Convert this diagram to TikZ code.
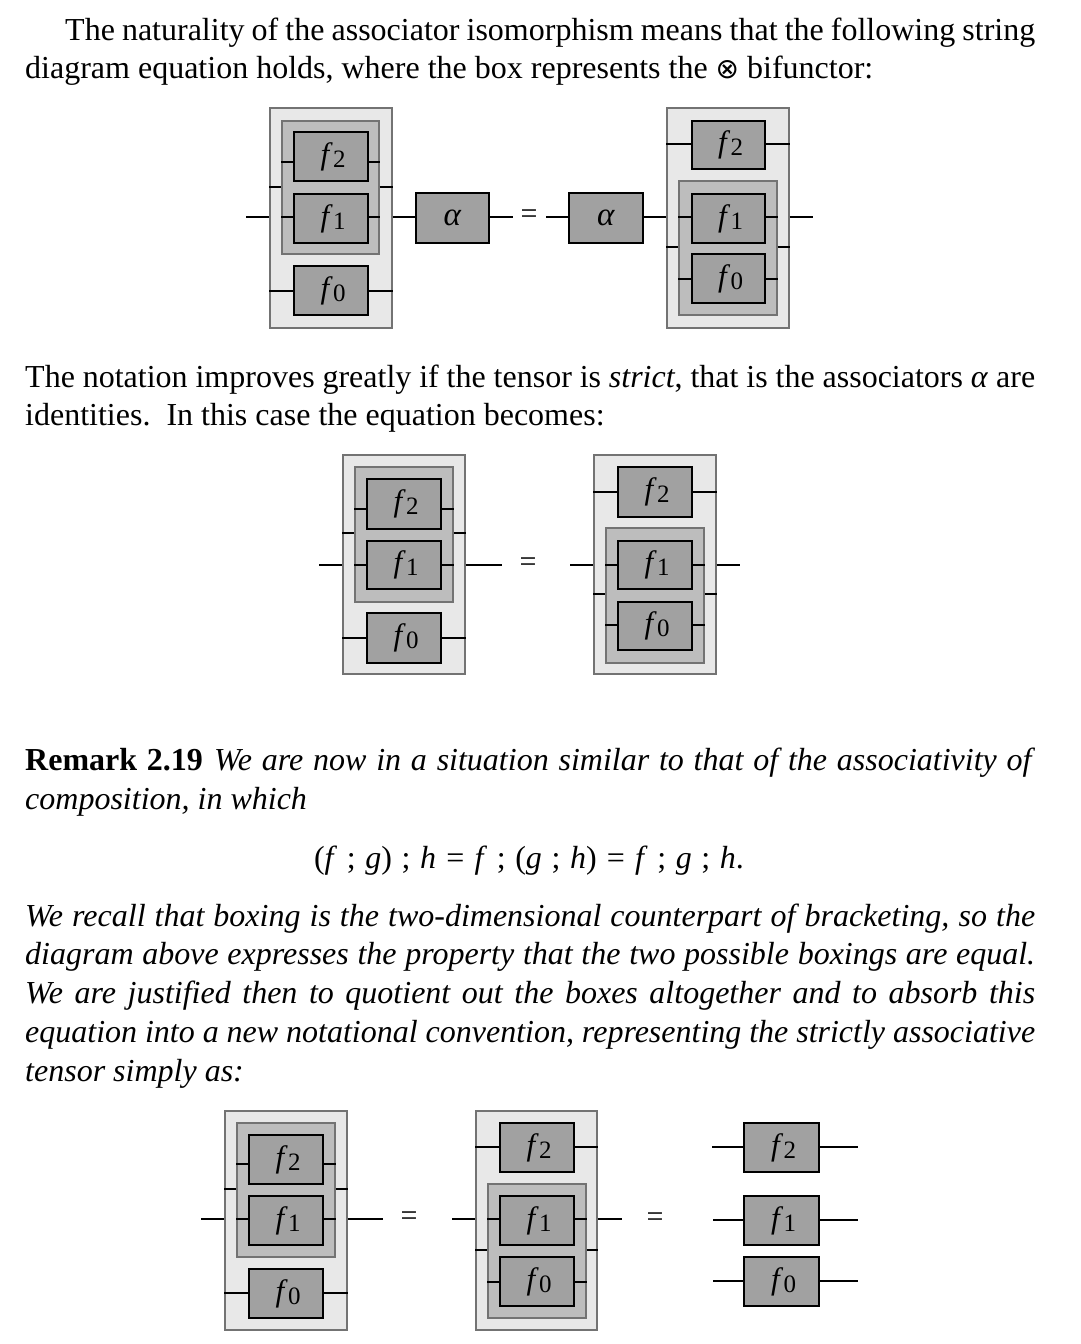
\documentclass[tikz,border=0pt]{standalone}
\usepackage{fontspec}
\setmainfont{Liberation Serif}
\newfontfamily\symf{DejaVu Sans}
\newcommand\mkbox[7]{\node[#2, minimum width={#5-#3}, minimum height={#6-#4}] (#1) at ({(#3+#5)/2},{(#4+#6)/2}) {#7};}
\newcommand\flab[1]{\hspace{4pt}\textit{f}\kern0.01em\raisebox{-0.1em}{\fontsize{25}{25}\selectfont #1}}
\newcommand\wirey[3]{\draw[wire] (#1 |- 0,#3) -- (#2 |- 0,#3);}
\newcommand\sm{\hspace{0.3em};\hspace{0.3em}}
\newcommand\eqq{\hspace{0.32em}=\hspace{0.32em}}
\begin{document}
\begin{tikzpicture}[x=1pt,y=-1pt,font=\fontsize{32}{39}\selectfont,
 outerbox/.style={draw=black!55, fill=black!9, line width=1.4pt, inner sep=0pt},
 innerbox/.style={draw=black!55, fill=black!26, line width=1.4pt, inner sep=0pt},
 fnbox/.style={draw=black, fill=black!37, line width=2.8pt, inner sep=0pt, font=\fontsize{31}{31}\selectfont},
 wire/.style={line width=2.4pt},
 txt/.style={anchor=base west, inner sep=0pt},
 eqsign/.style={inner sep=0pt, font=\fontsize{30}{30}\selectfont}]
\useasboundingbox[fill=white] (0,0) rectangle (1080,1344);

% ---------------- text ----------------
\node[txt] (p1a) at (65,40) {\makebox[970pt][s]{The naturality of the associator isomorphism means that the following string}};
\node[txt] (p1b) at (25,78) {diagram equation holds, where the box represents the {\symf\fontsize{28}{28}\selectfont ⊗} bifunctor:};
\node[txt] (p2a) at (25,387) {\makebox[1010pt][s]{The notation improves greatly if the tensor is \textit{strict}, that is the associators \textit{α} are}};
\node[txt] (p2b) at (25,425) {identities.\ \ In this case the equation becomes:};
\node[txt] (r1) at (25,770) {\makebox[1010pt][s]{\textbf{Remark 2.19}\hspace{0.35em}\textit{We are now in a situation similar to that of the associativity of}}};
\node[txt] (r2) at (25,809) {\textit{composition, in which}};
\node[anchor=base, inner sep=0pt] (eq) at (529,868) {(\textit{f}\sm\textit{g})\sm\textit{h}\eqq\textit{f}\sm(\textit{g}\sm\textit{h})\eqq\textit{f}\sm\textit{g}\sm\textit{h}.};
\node[txt] (r3) at (25,926) {\makebox[1010pt][s]{\textit{We recall that boxing is the two-dimensional counterpart of bracketing, so the}}};
\node[txt] (r4) at (25,964) {\makebox[1010pt][s]{\textit{diagram above expresses the property that the two possible boxings are equal.}}};
\node[txt] (r5) at (25,1003) {\makebox[1010pt][s]{\textit{We are justified then to quotient out the boxes altogether and to absorb this}}};
\node[txt] (r6) at (25,1042) {\makebox[1010pt][s]{\textit{equation into a new notational convention, representing the strictly associative}}};
\node[txt] (r7) at (25,1081) {\textit{tensor simply as:}};

% ---------------- diagram 1 ----------------
\mkbox{O1}{outerbox}{270}{108}{392}{328}{}
\mkbox{I1}{innerbox}{282}{121}{379}{254}{}
\mkbox{A2}{fnbox}{294}{132}{368}{181}{\flab{2}}
\mkbox{A1}{fnbox}{294}{194}{368}{243}{\flab{1}}
\mkbox{A0}{fnbox}{294}{266}{368}{315}{\flab{0}}
\mkbox{al1}{fnbox}{416}{193}{489}{243}{\fontsize{33}{33}\selectfont\textit{α}}
\coordinate (a1in) at (246,217);
\coordinate (a1out) at (513,217);
\wirey{a1in}{O1.west}{217}
\wirey{O1.west}{I1.west}{187}
\wirey{I1.west}{A2.west}{162}
\wirey{I1.west}{A1.west}{217}
\wirey{A2.east}{I1.east}{162}
\wirey{A1.east}{I1.east}{217}
\wirey{I1.east}{O1.east}{187}
\wirey{O1.west}{A0.west}{291}
\wirey{A0.east}{O1.east}{291}
\wirey{O1.east}{al1.west}{217}
\wirey{al1.east}{a1out}{217}
\node[eqsign] (eq1) at (529,217) {=};

\mkbox{al2}{fnbox}{569}{193}{643}{243}{\fontsize{33}{33}\selectfont\textit{α}}
\mkbox{O2}{outerbox}{667}{108}{789}{328}{}
\mkbox{B2}{fnbox}{692}{121}{765}{169}{\flab{2}}
\mkbox{I2}{innerbox}{679}{181}{777}{315}{}
\mkbox{B1}{fnbox}{692}{194}{765}{243}{\flab{1}}
\mkbox{B0}{fnbox}{692}{254}{765}{303}{\flab{0}}
\coordinate (b1in) at (546,217);
\coordinate (b1out) at (813,217);
\wirey{b1in}{al2.west}{217}
\wirey{al2.east}{O2.west}{217}
\wirey{O2.west}{B2.west}{144}
\wirey{B2.east}{O2.east}{144}
\wirey{O2.west}{I2.west}{247}
\wirey{I2.east}{O2.east}{247}
\wirey{I2.west}{B1.west}{217}
\wirey{B1.east}{I2.east}{217}
\wirey{I2.west}{B0.west}{279}
\wirey{B0.east}{I2.east}{279}
\wirey{O2.east}{b1out}{217}

% ---------------- diagram 2 ----------------
\mkbox{O3}{outerbox}{343}{455}{465}{674}{}
\mkbox{I3}{innerbox}{355}{467}{453}{602}{}
\mkbox{C2}{fnbox}{367}{479}{441}{529}{\flab{2}}
\mkbox{C1}{fnbox}{367}{541}{441}{589}{\flab{1}}
\mkbox{C0}{fnbox}{367}{613}{441}{663}{\flab{0}}
\coordinate (c2in) at (319,565);
\coordinate (c2out) at (502,565);
\wirey{c2in}{O3.west}{565}
\wirey{O3.west}{I3.west}{533}
\wirey{I3.east}{O3.east}{533}
\wirey{I3.west}{C2.west}{509}
\wirey{C2.east}{I3.east}{509}
\wirey{I3.west}{C1.west}{565}
\wirey{C1.east}{I3.east}{565}
\wirey{O3.west}{C0.west}{638}
\wirey{C0.east}{O3.east}{638}
\wirey{O3.east}{c2out}{565}
\node[eqsign] (eq2) at (528,565) {=};

\mkbox{O4}{outerbox}{594}{455}{716}{674}{}
\mkbox{D2}{fnbox}{618}{467}{692}{517}{\flab{2}}
\mkbox{I4}{innerbox}{606}{528}{704}{663}{}
\mkbox{D1}{fnbox}{618}{541}{692}{589}{\flab{1}}
\mkbox{D0}{fnbox}{618}{602}{692}{650}{\flab{0}}
\coordinate (d2in) at (570,565);
\coordinate (d2out) at (740,565);
\wirey{d2in}{O4.west}{565}
\wirey{O4.west}{D2.west}{492}
\wirey{D2.east}{O4.east}{492}
\wirey{O4.west}{I4.west}{594}
\wirey{I4.east}{O4.east}{594}
\wirey{I4.west}{D1.west}{565}
\wirey{D1.east}{I4.east}{565}
\wirey{I4.west}{D0.west}{625}
\wirey{D0.east}{I4.east}{625}
\wirey{O4.east}{d2out}{565}

% ---------------- diagram 3 ----------------
\mkbox{O5}{outerbox}{225}{1111}{347}{1330}{}
\mkbox{I5}{innerbox}{237}{1123}{335}{1257}{}
\mkbox{E2}{fnbox}{249}{1135}{323}{1184}{\flab{2}}
\mkbox{E1}{fnbox}{249}{1196}{323}{1245}{\flab{1}}
\mkbox{E0}{fnbox}{249}{1269}{323}{1318}{\flab{0}}
\coordinate (e3in) at (201,1219);
\coordinate (e3out) at (383,1219);
\wirey{e3in}{O5.west}{1219}
\wirey{O5.west}{I5.west}{1189}
\wirey{I5.east}{O5.east}{1189}
\wirey{I5.west}{E2.west}{1164}
\wirey{E2.east}{I5.east}{1164}
\wirey{I5.west}{E1.west}{1219}
\wirey{E1.east}{I5.east}{1219}
\wirey{O5.west}{E0.west}{1293}
\wirey{E0.east}{O5.east}{1293}
\wirey{O5.east}{e3out}{1219}
\node[eqsign] (eq3) at (409,1219) {=};

\mkbox{O6}{outerbox}{476}{1111}{597}{1330}{}
\mkbox{G2}{fnbox}{500}{1123}{574}{1172}{\flab{2}}
\mkbox{I6}{innerbox}{488}{1184}{586}{1318}{}
\mkbox{G1}{fnbox}{500}{1196}{574}{1245}{\flab{1}}
\mkbox{G0}{fnbox}{500}{1257}{574}{1306}{\flab{0}}
\coordinate (g3in) at (452,1219);
\coordinate (g3out) at (622,1219);
\wirey{g3in}{O6.west}{1219}
\wirey{O6.west}{G2.west}{1147}
\wirey{G2.east}{O6.east}{1147}
\wirey{O6.west}{I6.west}{1250}
\wirey{I6.east}{O6.east}{1250}
\wirey{I6.west}{G1.west}{1219}
\wirey{G1.east}{I6.east}{1219}
\wirey{I6.west}{G0.west}{1282}
\wirey{G0.east}{I6.east}{1282}
\wirey{O6.east}{g3out}{1219}
\node[eqsign] (eq4) at (655,1220) {=};

\mkbox{H2}{fnbox}{744}{1123}{819}{1172}{\flab{2}}
\mkbox{H1}{fnbox}{744}{1196}{819}{1245}{\flab{1}}
\mkbox{H0}{fnbox}{744}{1257}{819}{1306}{\flab{0}}
\coordinate (h2in) at (712,1147);
\coordinate (h2out) at (858,1147);
\coordinate (h1in) at (713,1220);
\coordinate (h1out) at (858,1220);
\coordinate (h0in) at (713,1281);
\coordinate (h0out) at (858,1281);
\wirey{h2in}{H2.west}{1147}
\wirey{H2.east}{h2out}{1147}
\wirey{h1in}{H1.west}{1220}
\wirey{H1.east}{h1out}{1220}
\wirey{h0in}{H0.west}{1281}
\wirey{H0.east}{h0out}{1281}
\end{tikzpicture}
\end{document}
